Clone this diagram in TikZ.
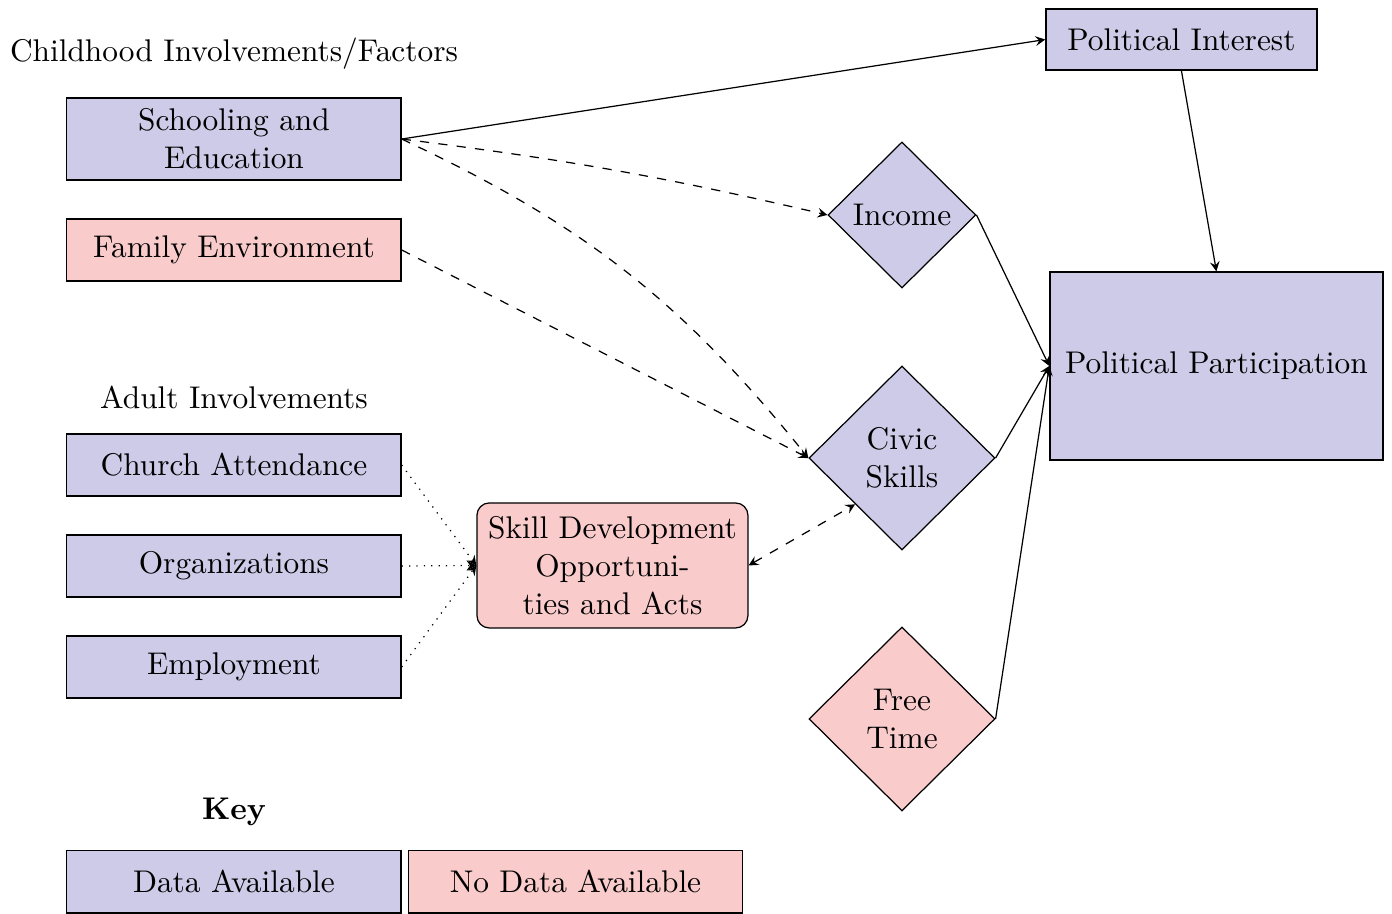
\documentclass[tikz,border=0pt]{standalone}
\usetikzlibrary{shapes.geometric,arrows}
\definecolor{havedata}{RGB}{205,203,231}
\definecolor{nodata}{RGB}{249,203,203}
\tikzset{
  box/.style={rectangle, draw, minimum width=3.82cm, minimum height=0.71cm, align=center},
  choice/.style={diamond, draw, aspect=1, inner sep=0pt, align=center},
}
\begin{document}
\begin{tikzpicture}[>=stealth, font=\fontsize{10.2pt}{12.4pt}\selectfont]
      \useasboundingbox (0,0) rectangle (15.91,10.446);
      \node (child) at (2.674,9.829) {Childhood Involvements/Factors};
      \node [box, fill=havedata, minimum height=0.937cm] (school) at (2.674,8.857) {Schooling and\\Education};
      \node [box, fill=nodata] (family) at (2.674,7.589) {Family Environment};
      \node (adult) at (2.674,5.909) {Adult Involvements};
      \node [box, fill=havedata] (church) at (2.674,5.131) {Church Attendance};
      \node [box, fill=havedata] (org) at (2.674,3.977) {Organizations};
      \node [box, fill=havedata] (employ) at (2.674,2.823) {Employment};
      \node (key) at (2.674,1.166) {\textbf{Key}};
      \node [box, fill=havedata] (keyd) at (2.674,0.366) {Data Available};
      \node [box, fill=nodata] (keyn) at (6.577,0.366) {No Data Available};
      \node [box, fill=nodata, rounded corners, minimum width=3.097cm, minimum height=1.429cm] (skill) at (7.0,3.983) {Skill Development\\Opportuni-\\ties and Acts};
      \node [choice, fill=havedata, minimum width=1.69cm, minimum height=1.67cm] (income) at (10.309,7.989) {Income};
      \node [choice, fill=havedata, minimum width=2.126cm, minimum height=2.103cm] (civic) at (10.309,5.211) {Civic\\Skills};
      \node [choice, fill=nodata, minimum width=2.126cm, minimum height=2.103cm] (free) at (10.309,2.229) {Free\\Time};
      \node [box, fill=havedata, minimum width=3.097cm, minimum height=0.697cm] (polint) at (13.503,9.994) {Political Interest};
      \node [box, fill=havedata, minimum width=3.806cm, minimum height=2.149cm] (polpart) at (13.903,6.263) {Political Participation};
      \draw [->] (school.east) -- (polint.west);
      \draw [->, dashed] (school.east) to [bend left=3] (income.west);
      \draw [->, dashed] (school.east) to [bend left=13] (civic.west);
      \draw [->, dashed] (family.east) -- (civic.west);
      \draw [->] (income.east) -- (polpart.west);
      \draw [->] (civic.east) -- (polpart.west);
      \draw [->] (free.east) -- (polpart.west);
      \draw [->] (polint.south) -- (polpart.north);
      \draw [->, dotted] (church.east) -- (skill.west);
      \draw [->, dotted] (org.east) -- (skill.west);
      \draw [->, dotted] (employ.east) -- (skill.west);
      \draw [<->, dashed] (skill.east) -- (civic.south west);
    \end{tikzpicture}
\end{document}
